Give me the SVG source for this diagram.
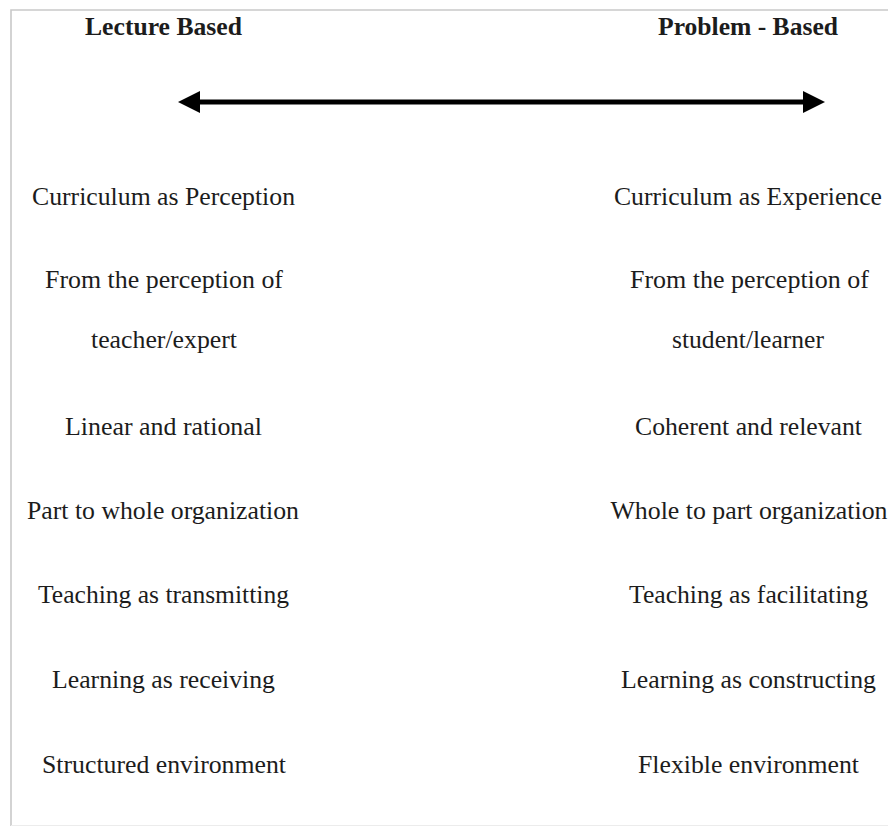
<svg xmlns="http://www.w3.org/2000/svg" width="888" height="826" viewBox="0 0 888 826">
  <style>
    .t { font-family: "Liberation Serif", "Times New Roman", serif; font-size: 25px; fill: #1c1c1c; text-anchor: middle; }
    .h { font-weight: bold; }
    .frame { stroke: #c9c9c9; stroke-width: 1.6; fill: none; }
  </style>
  <defs>
    <marker id="head" viewBox="0 0 22 22" refX="0" refY="11" markerWidth="22" markerHeight="22" orient="auto-start-reverse" markerUnits="userSpaceOnUse">
      <path d="M0,0 L22,11 L0,22 Z" fill="#000"/>
    </marker>
  </defs>
  <rect width="888" height="826" fill="#fff"/>
  <!-- page frame -->
  <path class="frame" d="M11,826 L11,10 L888,10"/>
  <line x1="11" y1="825.5" x2="888" y2="825.5" stroke="#ececec" stroke-width="1"/>

  <g id="connectors">
    <line x1="200" y1="102" x2="803" y2="102" stroke="#000" stroke-width="5" marker-start="url(#head)" marker-end="url(#head)"/>
  </g>

  <g id="lecture-based">
    <text class="t h" x="163.5" y="35" textLength="157" lengthAdjust="spacingAndGlyphs">Lecture Based</text>
    <text class="t" x="163.5" y="205" textLength="263" lengthAdjust="spacingAndGlyphs">Curriculum as Perception</text>
    <text class="t" x="164" y="288" textLength="238" lengthAdjust="spacingAndGlyphs">From the perception of</text>
    <text class="t" x="164" y="348" textLength="146" lengthAdjust="spacingAndGlyphs">teacher/expert</text>
    <text class="t" x="163.5" y="435" textLength="197" lengthAdjust="spacingAndGlyphs">Linear and rational</text>
    <text class="t" x="163" y="519" textLength="272" lengthAdjust="spacingAndGlyphs">Part to whole organization</text>
    <text class="t" x="163.5" y="603" textLength="251" lengthAdjust="spacingAndGlyphs">Teaching as transmitting</text>
    <text class="t" x="163.5" y="688" textLength="223" lengthAdjust="spacingAndGlyphs">Learning as receiving</text>
    <text class="t" x="164" y="773" textLength="244" lengthAdjust="spacingAndGlyphs">Structured environment</text>
  </g>

  <g id="problem-based">
    <text class="t h" x="748" y="35" textLength="180" lengthAdjust="spacingAndGlyphs">Problem - Based</text>
    <text class="t" x="748" y="205" textLength="268" lengthAdjust="spacingAndGlyphs">Curriculum as Experience</text>
    <text class="t" x="749.5" y="288" textLength="239" lengthAdjust="spacingAndGlyphs">From the perception of</text>
    <text class="t" x="748" y="348" textLength="152" lengthAdjust="spacingAndGlyphs">student/learner</text>
    <text class="t" x="748.5" y="435" textLength="227" lengthAdjust="spacingAndGlyphs">Coherent and relevant</text>
    <text class="t" x="749" y="519" textLength="277" lengthAdjust="spacingAndGlyphs">Whole to part organization</text>
    <text class="t" x="748.5" y="603" textLength="239" lengthAdjust="spacingAndGlyphs">Teaching as facilitating</text>
    <text class="t" x="748.5" y="688" textLength="255" lengthAdjust="spacingAndGlyphs">Learning as constructing</text>
    <text class="t" x="748.5" y="773" textLength="221" lengthAdjust="spacingAndGlyphs">Flexible environment</text>
  </g>
</svg>
